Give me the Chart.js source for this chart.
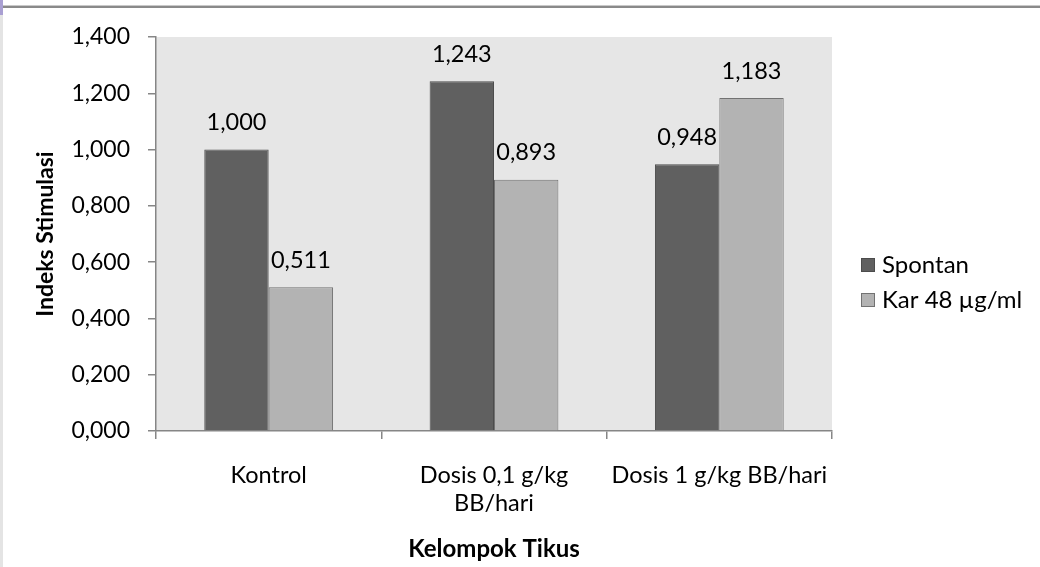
<!DOCTYPE html>
<html>
<head>
<meta charset="utf-8">
<title>Indeks Stimulasi per Kelompok Tikus</title>
<script src="https://cdn.jsdelivr.net/npm/chart.js@4/dist/chart.umd.min.js"></script>
<style>
  html, body { margin: 0; padding: 0; background: #ffffff; }
  #wrap { width: 1040px; height: 567px; position: relative; }
</style>
</head>
<body>
<div id="wrap"><canvas id="c" width="1040" height="567"></canvas></div>
<script>
// Groups of rats (multi-line labels as arrays)
const categories = ['Kontrol', ['Dosis 0,1 g/kg', 'BB/hari'], 'Dosis 1 g/kg BB/hari'];
const seriesNames = ['Spontan', 'Kar 48 µg/ml'];
const spontan = [1.000, 1.243, 0.948];
const kar48 = [0.511, 0.893, 1.183];
const yTicks = [0, 0.2, 0.4, 0.6, 0.8, 1.0, 1.2, 1.4];

const FONT = 'Lato, "Open Sans", "Noto Sans", sans-serif';
const AXIS = '#868686';

// Indonesian decimal comma, three decimals
const fmt = v => Number(v).toFixed(3).replace('.', ',');

const pagePlugin = {
  id: 'page',
  beforeDraw(chart) {
    const { ctx, chartArea: a } = chart;
    ctx.save();
    ctx.fillStyle = '#ffffff';
    ctx.fillRect(0, 0, chart.width, chart.height);
    // frame strips at top and left edge
    ctx.fillStyle = '#c9c9c9';
    ctx.fillRect(3, 5, chart.width - 3, 3);
    ctx.fillStyle = '#8a8a8a';
    ctx.fillRect(3, 6, chart.width - 3, 2);
    ctx.fillStyle = '#e4e4e4';
    ctx.fillRect(0, 0, 3, chart.height);
    ctx.fillStyle = '#a99fd2';
    ctx.fillRect(0, 0, 3, 15);
    // plot area fill
    ctx.fillStyle = '#e6e6e6';
    ctx.fillRect(a.left, a.top, a.right - a.left, a.bottom - a.top);
    ctx.restore();
  },
  afterDatasetsDraw(chart) {
    const { ctx } = chart;
    ctx.save();
    ctx.font = '23.5px ' + FONT;
    ctx.fillStyle = '#000000';
    ctx.textAlign = 'center';
    ctx.textBaseline = 'alphabetic';
    chart.data.datasets.forEach((ds, i) => {
      chart.getDatasetMeta(i).data.forEach((bar, j) => {
        ctx.fillText(fmt(ds.data[j]), bar.x, bar.y - 19.5);
      });
    });
    ctx.restore();
  },
  afterDraw(chart) {
    // legend on the right
    const { ctx } = chart;
    ctx.save();
    ctx.font = '24px ' + FONT;
    ctx.textAlign = 'left';
    ctx.textBaseline = 'middle';
    const rows = [265, 300];
    chart.data.datasets.forEach((ds, i) => {
      const cy = rows[i];
      ctx.fillStyle = ds.backgroundColor;
      ctx.fillRect(861, cy - 7, 14, 14);
      ctx.strokeStyle = ds.borderColor;
      ctx.lineWidth = 1;
      ctx.strokeRect(861.5, cy - 6.5, 13, 13);
      ctx.fillStyle = '#000000';
      ctx.fillText(ds.label, 882, cy);
    });
    ctx.restore();
  }
};

new Chart(document.getElementById('c'), {
  type: 'bar',
  data: {
    labels: categories,
    datasets: [
      { label: seriesNames[0], data: spontan, backgroundColor: '#606060', borderColor: '#4c4c4c', borderWidth: 1 },
      { label: seriesNames[1], data: kar48, backgroundColor: '#b3b3b3', borderColor: '#727272', borderWidth: 1 }
    ]
  },
  options: {
    responsive: false,
    animation: false,
    devicePixelRatio: 1,
    layout: { padding: { top: 37, right: 208, bottom: 0, left: 0 } },
    datasets: { bar: { barPercentage: 1, categoryPercentage: 2 / 3.5 } },
    plugins: { legend: { display: false }, tooltip: { enabled: false } },
    scales: {
      x: {
        offset: true,
        grid: { offset: true, drawOnChartArea: false, drawTicks: true, tickLength: 8, color: AXIS, lineWidth: 1.5 },
        border: { color: AXIS, width: 1.5 },
        ticks: { font: { family: FONT, size: 23.5 }, color: '#000000', padding: 22, maxRotation: 0, autoSkip: false },
        title: { display: true, text: 'Kelompok Tikus', color: '#000000', font: { family: FONT, size: 24, weight: 'bold' }, padding: { top: 0, bottom: 3 } },
        afterFit(s) { s.height = 136; }
      },
      y: {
        min: 0,
        max: 1.4,
        afterBuildTicks(s) { s.ticks = yTicks.map(v => ({ value: v })); },
        grid: { drawOnChartArea: false, drawTicks: true, tickLength: 8, color: AXIS, lineWidth: 1.5 },
        border: { color: AXIS, width: 1.5 },
        ticks: { font: { family: FONT, size: 23 }, color: '#000000', padding: 18, callback: v => fmt(v) },
        title: { display: true, text: 'Indeks Stimulasi', color: '#000000', font: { family: FONT, size: 23, weight: 'bold' }, padding: { top: 32, bottom: 0 } },
        afterFit(s) { s.width = 156; }
      }
    }
  },
  plugins: [pagePlugin]
});
</script>
</body>
</html>
